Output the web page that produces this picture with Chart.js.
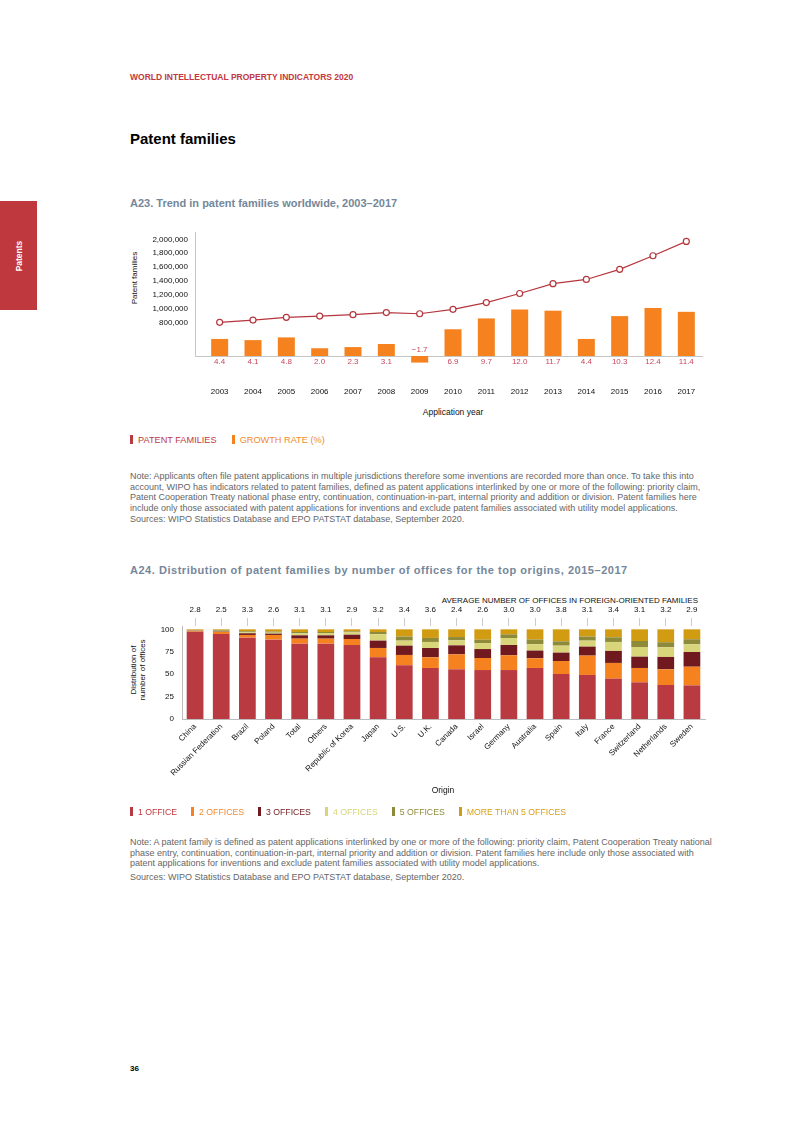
<!DOCTYPE html>
<html>
<head>
<meta charset="utf-8">
<script src="https://cdn.jsdelivr.net/npm/chart.js@4.4.1/dist/chart.umd.min.js"></script>
<style>
  body { margin: 0; background: #fff; font-family: 'Liberation Sans', Arial, sans-serif; }
  .page { position: relative; width: 793px; height: 1122px; overflow: hidden; }
  .abs { position: absolute; white-space: nowrap; }
  .tab { position: absolute; left: 0; top: 201px; width: 37px; height: 109px; background: #bf383e; }
  .tab span { position: absolute; left: 50%; top: 50%; transform: translate(-50%, -50%) rotate(-90deg);
              color: #fff; font-weight: bold; font-size: 8.5px; }
  .note { position: absolute; left: 130px; font-size: 9px; line-height: 10.6px; color: #666; white-space: nowrap; }
  .legend { position: absolute; left: 130px; display: flex; line-height: 10px; }
  .legend i { display: inline-block; width: 3px; height: 9px; margin-right: 5px; vertical-align: -1px; }
  .rot { position: absolute; transform: translate(-50%, -50%) rotate(-90deg); font-size: 8px; line-height: 9px;
         color: #111; text-align: center; white-space: nowrap; }
</style>
</head>
<body>
<div class="page">
  <div class="tab"><span>Patents</span></div>
  <div class="abs" style="left:130px;top:72px;font-size:8.5px;line-height:10px;font-weight:bold;color:#c4373e;">WORLD INTELLECTUAL PROPERTY INDICATORS 2020</div>
  <div class="abs" style="left:130px;top:130px;font-size:15px;line-height:18px;font-weight:bold;color:#000;">Patent families</div>
  <div class="abs" style="left:130px;top:197px;font-size:11px;line-height:13px;font-weight:bold;color:#75879a;">A23. Trend in patent families worldwide, 2003–2017</div>

  <div class="rot" style="left:134px;top:278px;">Patent families</div>
  <div style="position:absolute;left:120px;top:225px;width:600px;height:180px;"><canvas id="trend"></canvas></div>
  <div class="abs" style="left:453px;top:407px;transform:translateX(-50%);font-size:8.5px;line-height:10px;color:#111;">Application year</div>

  <div class="legend" style="top:435px;gap:15px;font-size:9.2px;">
    <span style="color:#c0393f;"><i style="background:#b93a41;"></i>PATENT FAMILIES</span>
    <span style="color:#f08a2c;"><i style="background:#f5821f;"></i>GROWTH RATE (%)</span>
  </div>

  <div class="note" style="top:471px;">Note: Applicants often file patent applications in multiple jurisdictions therefore some inventions are recorded more than once. To take this into<br>account, WIPO has indicators related to patent families, defined as patent applications interlinked by one or more of the following: priority claim,<br>Patent Cooperation Treaty national phase entry, continuation, continuation-in-part, internal priority and addition or division. Patent families here<br>include only those associated with patent applications for inventions and exclude patent families associated with utility model applications.</div>
  <div class="note" style="top:514px;">Sources: WIPO Statistics Database and EPO PATSTAT database, September 2020.</div>

  <div class="abs" style="left:130px;top:564px;font-size:11px;line-height:13px;font-weight:bold;color:#75879a;letter-spacing:0.53px;">A24. Distribution of patent families by number of offices for the top origins, 2015–2017</div>
  <div class="abs" style="right:95px;top:595.5px;font-size:8px;line-height:9px;color:#111;">AVERAGE NUMBER OF OFFICES IN FOREIGN-ORIENTED FAMILIES</div>

  <div class="rot" style="left:138px;top:670px;">Distribution of<br>number of offices</div>
  <div style="position:absolute;left:120px;top:590px;width:600px;height:215px;"><canvas id="offices"></canvas></div>
  <div class="abs" style="left:443px;top:785px;transform:translateX(-50%);font-size:8.5px;line-height:10px;color:#111;">Origin</div>

  <div class="legend" style="top:807px;gap:14px;font-size:8.7px;">
    <span style="color:#c0393f;"><i style="background:#b93a41;"></i>1 OFFICE</span>
    <span style="color:#f08a2c;"><i style="background:#f5821f;"></i>2 OFFICES</span>
    <span style="color:#701a20;"><i style="background:#701a20;"></i>3 OFFICES</span>
    <span style="color:#d9d57a;"><i style="background:#d9d57a;"></i>4 OFFICES</span>
    <span style="color:#8d8b3a;"><i style="background:#8d8b3a;"></i>5 OFFICES</span>
    <span style="color:#d8a116;"><i style="background:#d19b12;"></i>MORE THAN 5 OFFICES</span>
  </div>

  <div class="note" style="top:837px;">Note: A patent family is defined as patent applications interlinked by one or more of the following: priority claim, Patent Cooperation Treaty national<br>phase entry, continuation, continuation-in-part, internal priority and addition or division. Patent families here include only those associated with<br>patent applications for inventions and exclude patent families associated with utility model applications.</div>
  <div class="note" style="top:872px;">Sources: WIPO Statistics Database and EPO PATSTAT database, September 2020.</div>

  <div class="abs" style="left:130px;top:1064px;font-size:8px;line-height:10px;font-weight:bold;color:#000;">36</div>
</div>

<script>
// A23 data
const years = ['2003', '2004', '2005', '2006', '2007', '2008', '2009', '2010',
               '2011', '2012', '2013', '2014', '2015', '2016', '2017'];
const patentFamilies = [805000, 838000, 878000, 896000, 916000, 945000, 929000, 993000,
                        1089000, 1220000, 1362000, 1422000, 1568000, 1763000, 1970000];
const growthRate = [4.4, 4.1, 4.8, 2.0, 2.3, 3.1, -1.7, 6.9, 9.7, 12.0, 11.7, 4.4, 10.3, 12.4, 11.4];
const familyTicks = [800000, 1000000, 1200000, 1400000, 1600000, 1800000, 2000000];

// A24 data
const origins = ['China', 'Russian Federation', 'Brazil', 'Poland', 'Total', 'Others', 'Republic of Korea',
                 'Japan', 'U.S.', 'U.K.', 'Canada', 'Israel', 'Germany', 'Australia', 'Spain', 'Italy',
                 'France', 'Switzerland', 'Netherlands', 'Sweden'];
const avgOffices = [2.8, 2.5, 3.3, 2.6, 3.1, 3.1, 2.9, 3.2, 3.4, 3.6, 2.4, 2.6, 3.0, 3.0, 3.8, 3.1, 3.4, 3.1, 3.2, 2.9];
const oneOffice   = [97.3, 94.8, 90.7, 88.5, 84.0, 84.0, 82.5, 68.8, 59.9, 56.9, 55.4, 54.6, 54.6, 56.9, 50.2, 49.1, 45.0, 40.9, 37.9, 37.5];
const twoOffices  = [0.8, 2.2, 3.0, 5.2, 5.6, 5.6, 6.7, 10.4, 11.5, 11.9, 16.7, 13.4, 16.4, 10.8, 14.5, 21.6, 17.5, 16.0, 17.5, 20.8];
const threeOffices = [0.3, 0.5, 1.9, 1.5, 3.7, 3.7, 4.8, 8.2, 10.4, 10.4, 10.0, 10.0, 11.5, 8.6, 9.3, 10.0, 13.4, 12.6, 13.8, 16.4];
const fourOffices = [0.3, 0.7, 1.1, 1.1, 2.2, 2.6, 2.6, 7.2, 5.6, 6.7, 5.6, 6.7, 7.8, 7.1, 7.8, 6.7, 10.0, 10.8, 10.8, 8.6];
const fiveOffices = [0.3, 0.8, 1.1, 1.1, 1.5, 1.1, 1.1, 2.4, 4.5, 4.5, 3.7, 3.7, 4.1, 5.2, 4.8, 4.5, 5.2, 6.7, 5.6, 5.6];
const moreOffices = [1.0, 1.0, 2.2, 2.6, 3.0, 3.0, 2.3, 3.0, 8.1, 9.6, 8.6, 11.6, 5.6, 11.4, 13.4, 8.1, 8.9, 13.0, 14.4, 11.1];
const distTicks = [0, 25, 50, 75, 100];

const FONT = "'Liberation Sans', Arial, sans-serif";
Chart.defaults.font.family = FONT;
Chart.defaults.font.size = 8;
Chart.defaults.color = '#111';

// zero line + left axis line sit a little left of the first bar
const trendAxes = {
    id: 'trendAxes',
    beforeDatasetsDraw(chart) {
        const { ctx, chartArea } = chart;
        const zero = Math.round(chart.scales.y2.getPixelForValue(0)) + 0.5;
        const left = Math.round(chartArea.left - 8) + 0.5;
        ctx.save();
        ctx.strokeStyle = '#c6c6c6';
        ctx.lineWidth = 1;
        ctx.beginPath();
        ctx.moveTo(left, chartArea.top);
        ctx.lineTo(left, zero);
        ctx.lineTo(chartArea.right, zero);
        ctx.stroke();
        ctx.restore();
    }
};

const growthLabels = {
    id: 'growthLabels',
    afterDatasetsDraw(chart) {
        const { ctx } = chart;
        const x = chart.scales.x;
        const zero = chart.scales.y2.getPixelForValue(0);
        ctx.save();
        ctx.font = '8px ' + FONT;
        ctx.fillStyle = '#c9475c';
        ctx.textAlign = 'center';
        growthRate.forEach((v, i) => {
            const px = x.getPixelForValue(i);
            const txt = (v < 0 ? '\u2212' : '') + Math.abs(v).toFixed(1);
            if (v < 0) {
                ctx.textBaseline = 'bottom';
                ctx.fillText(txt, px, zero - 2);
            } else {
                ctx.textBaseline = 'top';
                ctx.fillText(txt, px, zero + 2);
            }
        });
        ctx.restore();
    }
};

new Chart(document.getElementById('trend'), {
    type: 'bar',
    data: {
        labels: years,
        datasets: [
            {
                type: 'line',
                label: 'Patent families',
                data: patentFamilies,
                yAxisID: 'y',
                borderColor: '#b5363d',
                borderWidth: 1.2,
                pointRadius: 3,
                pointBorderWidth: 1.2,
                pointBackgroundColor: '#fff',
                pointBorderColor: '#b5363d',
                order: 0
            },
            {
                label: 'Growth rate (%)',
                data: growthRate,
                yAxisID: 'y2',
                backgroundColor: '#f5821f',
                barPercentage: 0.51,
                categoryPercentage: 1,
                order: 1
            }
        ]
    },
    options: {
        responsive: true,
        maintainAspectRatio: false,
        animation: false,
        layout: { padding: { left: 0, right: 17, top: 7, bottom: 0 } },
        plugins: { legend: { display: false }, tooltip: { enabled: false } },
        scales: {
            x: {
                grid: { display: false, drawTicks: false },
                border: { display: false },
                ticks: { padding: 21, color: '#111', maxRotation: 0, autoSkip: false },
                afterFit(s) { s.height = 39; s.paddingLeft = 0; s.paddingRight = 0; }
            },
            y: {
                position: 'left',
                min: 177000,
                max: 2105000,
                grid: { display: false, drawTicks: false },
                border: { display: false },
                ticks: { padding: 15, color: '#111', callback: v => v.toLocaleString('en-US') },
                afterBuildTicks(s) { s.ticks = familyTicks.map(v => ({ value: v })); },
                // tick padding would otherwise push the plot top down
                afterFit(s) { s.width = 83; s.paddingTop = 0; s.paddingBottom = 0; }
            },
            y2: {
                display: false,
                min: -2.58,
                max: 32
            }
        }
    },
    plugins: [trendAxes, growthLabels]
});

new Chart(document.getElementById('offices'), {
    type: 'bar',
    data: {
        labels: origins,
        datasets: [
            { label: '1 office', data: oneOffice, backgroundColor: '#b93a41' },
            { label: '2 offices', data: twoOffices, backgroundColor: '#f5821f' },
            { label: '3 offices', data: threeOffices, backgroundColor: '#701a20' },
            { label: '4 offices', data: fourOffices, backgroundColor: '#d9d57a' },
            { label: '5 offices', data: fiveOffices, backgroundColor: '#8d8b3a' },
            { label: 'More than 5 offices', data: moreOffices, backgroundColor: '#d19b12' }
        ]
    },
    options: {
        responsive: true,
        maintainAspectRatio: false,
        animation: false,
        datasets: { bar: { barPercentage: 0.64, categoryPercentage: 1 } },
        layout: { padding: { left: 0, right: 15, top: 0, bottom: 0 } },
        plugins: { legend: { display: false }, tooltip: { enabled: false } },
        scales: {
            x: {
                stacked: true,
                grid: { display: false, drawTicks: false },
                border: { display: true, color: '#bdbdbd', width: 1 },
                ticks: { padding: 3, color: '#111', minRotation: 45, maxRotation: 45, autoSkip: false },
                afterFit(s) { s.height = 86; }
            },
            x2: {
                type: 'category',
                position: 'top',
                labels: avgOffices.map(v => v.toFixed(1)),
                offset: true,
                grid: { display: true, drawOnChartArea: false, drawTicks: true, tickLength: 8, offset: false, color: '#cccccc' },
                border: { display: false },
                ticks: { padding: 3, color: '#111', maxRotation: 0, autoSkip: false },
                afterFit(s) { s.height = 36; }
            },
            y: {
                stacked: true,
                min: 0,
                max: 103.7,
                grid: { display: false, drawTicks: false },
                border: { display: true, color: '#bdbdbd', width: 1 },
                ticks: { padding: 8, color: '#111' },
                afterBuildTicks(s) { s.ticks = distTicks.map(v => ({ value: v })); },
                afterFit(s) { s.width = 62; }
            }
        }
    }
});
</script>
</body>
</html>
